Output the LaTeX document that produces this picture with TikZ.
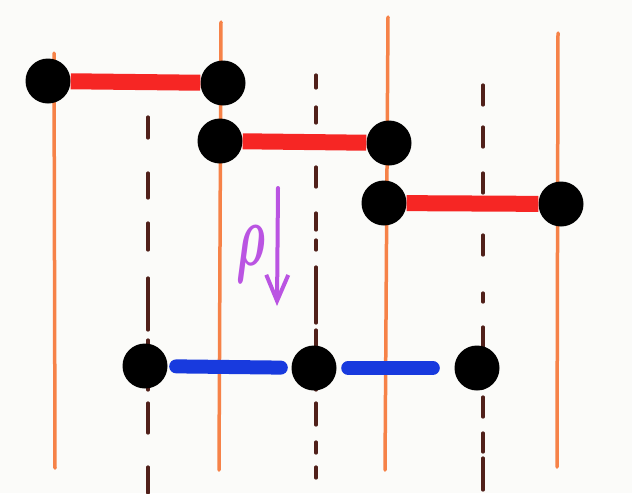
\documentclass[tikz,border=0pt]{standalone}
\usepackage{bm}
\usetikzlibrary{arrows.meta}
\definecolor{paper}{RGB}{251,251,249}
\definecolor{orangepen}{RGB}{246,130,72}
\definecolor{redpen}{RGB}{246,38,36}
\definecolor{bluepen}{RGB}{24,58,222}
\definecolor{brownpen}{RGB}{80,32,26}
\definecolor{purplepen}{RGB}{186,84,226}
\tikzset{
  dot/.style={circle,fill=black,minimum size=45pt,inner sep=0pt},
  guide/.style={draw=orangepen,line width=3.5pt,line cap=round},
  dashmark/.style={draw=brownpen,line width=3.2pt,line cap=round},
  redbar/.style={draw=redpen,line width=16pt},
  bluebar/.style={draw=bluepen,line width=14pt,line cap=round},
  arrowpen/.style={draw=purplepen,line width=4pt,line cap=round,
    -{Straight Barb[length=26pt,width=22pt,line width=4pt]}},
  rholabel/.style={text=purplepen,xscale=1.9,yscale=3.6,inner sep=0pt,font=\Huge}
}
\begin{document}
\begin{tikzpicture}[x=1pt,y=-1pt]
\useasboundingbox (0,0) rectangle (632,493);
\fill[paper] (0,0) rectangle (632,493);

% orange vertical lines
\coordinate (o1t) at (54,53);  \coordinate (o1b) at (55,468);
\coordinate (o2t) at (221,22); \coordinate (o2b) at (219,470);
\coordinate (o3t) at (388,17); \coordinate (o3b) at (385,470);
\coordinate (o4t) at (558,33); \coordinate (o4b) at (557,467);
\draw[guide] (o1t) -- (o1b);
\draw[guide] (o2t) -- (o2b);
\draw[guide] (o3t) -- (o3b);
\draw[guide] (o4t) -- (o4b);

% dashed brown lines
\foreach \a/\b in {117/138,173/198,223/250,278/330,340/390,403/433,467/493}
  \draw[dashmark] (148,\a) -- (148,\b);
\foreach \a/\b in {75/88,107/123,167/187,213/230,240/250,267/323,330/390,403/425,442/453,467/478}
  \draw[dashmark] (316,\a) -- (316,\b);
\foreach \a/\b in {85/105,127/147,173/193,235/255,293/302,327/388,397/417,433/452,458/490}
  \draw[dashmark] (483,\a) -- (483,\b);

% top dots and red bars
\node[dot] (d1) at (48,81) {};
\node[dot] (d2) at (223,83) {};
\node[dot] (d3) at (220,141) {};
\node[dot] (d4) at (389,143) {};
\node[dot] (d5) at (384,203) {};
\node[dot] (d6) at (561,204) {};
\draw[redbar] (d1) -- (d2);
\draw[redbar] (d3) -- (d4);
\draw[redbar] (d5) -- (d6);

% bottom dots and blue bars
\node[dot] (b1) at (145,366) {};
\node[dot] (b2) at (314,368) {};
\node[dot] (b3) at (477,368) {};
\draw[bluebar,shorten <=8.5pt,shorten >=10.5pt] (b1) -- (b2);
\draw[bluebar,shorten <=11.5pt,shorten >=21.5pt] (b2) -- (b3);

% purple rho and arrow
\node[rholabel] (rho) at (251,254) {$\bm{\rho}$};
\coordinate (atop) at (278,188);
\coordinate (atip) at (277,306);
\draw[arrowpen] (atop) -- (atip);
\end{tikzpicture}
\end{document}
